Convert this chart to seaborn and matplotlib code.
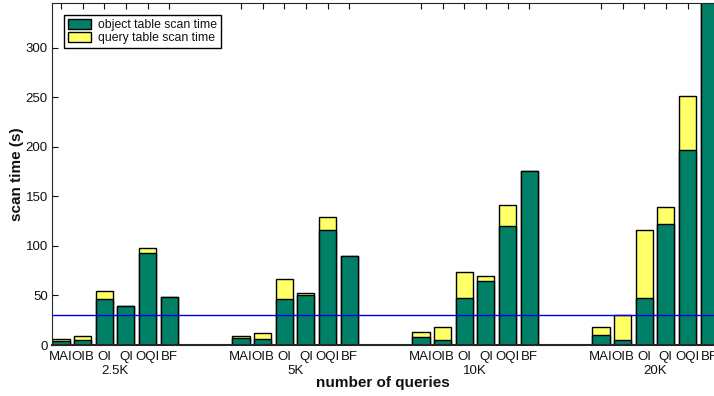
import numpy as np
import pandas as pd
import matplotlib
matplotlib.use("Agg")
import matplotlib.pyplot as plt
from matplotlib.patches import Patch
from matplotlib.transforms import blended_transform_factory
import seaborn as sns

# veriler
methods = ['MAI', 'OIB', 'OI', 'QI', 'OQI', 'BF']
groups = ['2.5K', '5K', '10K', '20K']

object_25k = [4.5, 5.5, 46.5, 39, 92.5, 48]
object_5k = [7, 5.8, 46.5, 50, 116, 90]
object_10k = [8, 5.5, 47, 65, 120.5, 176]
object_20k = [9.8, 4.7, 47, 122, 197, 380]

query_25k = [2, 3.5, 8, 0, 5.5, 0]
query_5k = [2.5, 6, 20.2, 2, 13, 0]
query_10k = [5, 13, 27, 5, 20.5, 0]
query_20k = [8.2, 25.6, 69.5, 17, 54, 0]

threshold = 30

green = '#008066'
yellow = '#ffff66'

sns.set_style('ticks')
plt.rcParams['font.family'] = ['Liberation Sans', 'DejaVu Sans']
for k in ['text.color', 'axes.labelcolor', 'xtick.color', 'ytick.color']:
    plt.rcParams[k] = '#111111'

# tabloyu kur
group_step = 8.32
rows = []
obj_lists = [object_25k, object_5k, object_10k, object_20k]
qry_lists = [query_25k, query_5k, query_10k, query_20k]
for g, (name, objs, qrys) in enumerate(zip(groups, obj_lists, qry_lists)):
    for i, m in enumerate(methods):
        rows.append({'group': name, 'method': m, 'pos': g * group_step + i,
                     'object': objs[i], 'total': objs[i] + qrys[i]})
df = pd.DataFrame(rows)

fig = plt.figure(figsize=(7.14, 3.96), dpi=100)
ax = fig.add_axes([52 / 714, 51 / 396, 662 / 714, 342 / 396])

# yigilmis cubuklar: once toplam (sari), sonra nesne tablosu (yesil)
sns.barplot(data=df, x='pos', y='total', native_scale=True, width=0.79,
            color=yellow, saturation=1, edgecolor='black', linewidth=1,
            errorbar=None, ax=ax)
sns.barplot(data=df, x='pos', y='object', native_scale=True, width=0.79,
            color=green, saturation=1, edgecolor='black', linewidth=1,
            errorbar=None, ax=ax)

ax.axhline(threshold, color='#0000dd', linewidth=1, zorder=3)

ax.set_xlim(-0.417, 30.185)
ax.set_ylim(0, 345)
ax.set_yticks(np.arange(0, 301, 50))
ax.set_xticks(df['pos'], df['method'])
ax.tick_params(axis='x', bottom=False, top=True, direction='in', length=4.5,
               labelsize=9.5, pad=4.5)
ax.tick_params(axis='y', direction='in', length=4.5, labelsize=9.5, pad=3)
ax.spines['right'].set_visible(False)
ax.spines['bottom'].set_linewidth(1.5)
for s in ['left', 'top']:
    ax.spines[s].set_linewidth(0.8)

trans = blended_transform_factory(ax.transData, ax.transAxes)
for g, name in enumerate(groups):
    ax.annotate(name, xy=(g * group_step + 2.5, 0), xycoords=trans,
                xytext=(0, -18.5), textcoords='offset points',
                ha='center', va='center', fontsize=9.5)

ax.set_xlabel('number of queries', fontsize=11, fontweight='bold')
ax.set_ylabel('scan time (s)', fontsize=11, fontweight='bold')
ax.xaxis.label.set_va('center')
ax.xaxis.set_label_coords(0.5, -38 / 342)
ax.yaxis.label.set_va('center')
ax.yaxis.set_label_coords(-35 / 662, 0.5)

handles = [Patch(facecolor=green, edgecolor='black', label='object table scan time'),
           Patch(facecolor=yellow, edgecolor='black', label='query table scan time')]
ax.legend(handles=handles, loc='upper left', bbox_to_anchor=(0.018, 0.965),
          borderaxespad=0, fancybox=False, edgecolor='black', framealpha=1,
          fontsize=8.8, handlelength=1.9, handleheight=0.9, borderpad=0.3,
          labelspacing=0.1, handletextpad=0.6)

fig.savefig('out.png', dpi=100)
